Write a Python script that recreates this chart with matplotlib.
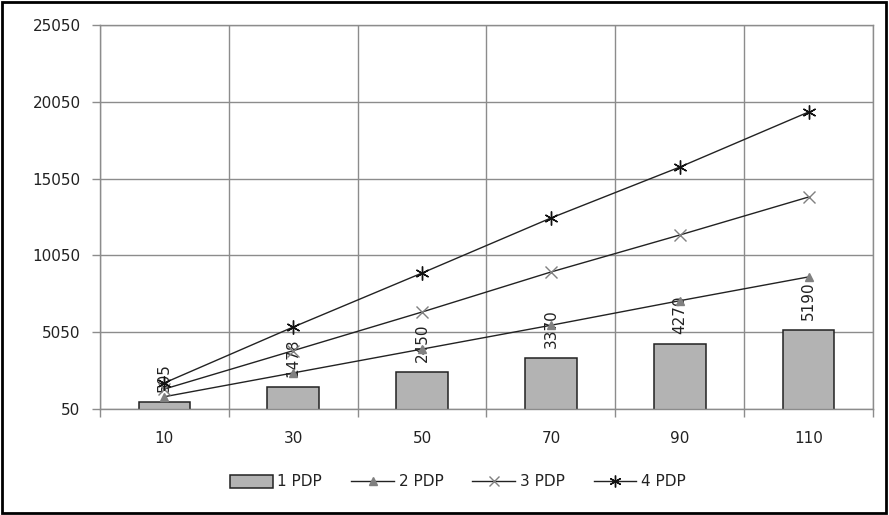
import numpy as np
import matplotlib.pyplot as plt
from matplotlib.patches import Rectangle

# data
categories = ['10', '30', '50', '70', '90', '110']
pdp1 = [505, 1478, 2450, 3370, 4270, 5190]
pdp2 = [850, 2400, 3950, 5500, 7100, 8650]
pdp3 = [1350, 3850, 6365, 8969, 11377, 13851]
pdp4 = [1750, 5388, 8904, 12484, 15800, 19385]
yticks = [50, 5050, 10050, 15050, 20050, 25050]

fig = plt.figure(figsize=(8.89, 5.15), dpi=100)
ax = fig.add_axes([100/889, 1 - 409/515, 773/889, 384/515])

x = np.arange(len(categories))
grid_c = '#8c8c8c'
txt_c = '#222222'

bars = ax.bar(x, pdp1, width=0.4, color='#b3b3b3', edgecolor='#222222',
              linewidth=1.1, label='1 PDP', zorder=2)
# value labels sit under the lines, like in the reference
for xi, v in zip(x, pdp1):
    ax.text(xi, v + 650, str(v), rotation=90, ha='center', va='bottom',
            fontsize=11, color=txt_c, zorder=2.5)

l2, = ax.plot(x, pdp2, color='#222222', lw=1, marker='^', ms=6,
              mfc='#808080', mec='#808080', label='2 PDP', zorder=3)
l3, = ax.plot(x, pdp3, color='#222222', lw=1, marker='x', ms=8, mew=1,
              mfc='#808080', mec='#808080', label='3 PDP', zorder=3)
l4, = ax.plot(x, pdp4, color='#222222', lw=1, marker=(6, 2, 0), ms=10, mew=1,
              mec='#111111', label='4 PDP', zorder=3)

ax.set_xlim(-0.5, len(categories) - 0.5)
ax.set_ylim(50, 25050)
ax.set_yticks(yticks)
ax.set_yticklabels([str(t) for t in yticks], fontsize=11, color=txt_c)
ax.set_xticks(x)
ax.set_xticklabels(categories, fontsize=11, color=txt_c)
ax.set_xticks(np.arange(-0.5, len(categories)), minor=True)
ax.tick_params(axis='x', which='major', length=0, pad=16)
ax.tick_params(axis='x', which='minor', length=6, color=grid_c, width=1)
ax.tick_params(axis='y', length=6, color=grid_c, width=1, pad=8)

ax.grid(True, axis='y', color=grid_c, lw=1, zorder=0)
ax.grid(True, axis='x', which='minor', color=grid_c, lw=1, zorder=0)
for s in ax.spines.values():
    s.set_color(grid_c)
    s.set_linewidth(1)
ax.set_axisbelow(True)

leg = fig.legend(handles=[bars, l2, l3, l4], loc='center',
                 bbox_to_anchor=(0.515, 1 - 482/515), ncol=4,
                 frameon=False, fontsize=11, handlelength=2.8, handleheight=0.9,
                 columnspacing=1.9, handletextpad=0.3, markerscale=0.85)
for t in leg.get_texts():
    t.set_color(txt_c)

fig.patches.append(Rectangle((0.002, 0.003), 0.995, 0.994, transform=fig.transFigure,
                             fill=False, edgecolor='black', linewidth=2))

fig.savefig('out.png', dpi=100)
